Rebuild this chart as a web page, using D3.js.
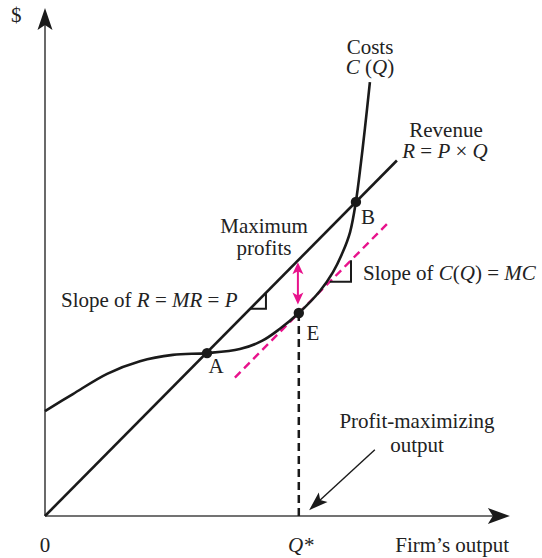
<!DOCTYPE html>
<html>
<head>
<meta charset="utf-8">
<script src="https://cdn.jsdelivr.net/npm/d3@7"></script>
<style>
  body { margin: 0; background: #fff; }
  svg text { font-family: "Liberation Serif", "Times New Roman", serif; font-size: 21px; fill: #222; }
  .it { font-style: italic; }
</style>
</head>
<body>
<svg id="chart" width="542" height="558"></svg>
<script>
// revenue line R = P x Q
const revenueQ = [0, 7.82];
const revenueV = [0, 7.9];

// cost curve C(Q)
const costQ = [0, 0.62, 1.38, 2.11, 2.84, 3.6, 4.33, 4.82, 5.22, 5.64, 6.11, 6.4, 6.62, 6.78, 6.91, 7.02, 7.11, 7.22];
const costV = [2.33, 2.71, 3.16, 3.44, 3.58, 3.62, 3.71, 3.89, 4.16, 4.51, 5.0, 5.42, 5.87, 6.31, 6.99, 7.84, 8.62, 9.64];

// marked points
const pointNames = ["A", "E", "B"];
const pointQ = [3.6, 5.64, 6.91];
const pointV = [3.62, 4.51, 6.98];

// tangent (MC) at E
const tangentQ = [4.22, 7.6];
const tangentSlope = 1.01;

const xMax = 10.33;
const yMax = 11.29;

const svg = d3.select("#chart");

const x = d3.scaleLinear().domain([0, 10]).range([45, 495]);
const y = d3.scaleLinear().domain([0, 10]).range([516, 66]);

const magenta = "#e8128c";
const ink = "#1a1a1a";

function arrowHead(tx, ty, ang, len, hw, notch, color) {
    const c = Math.cos(ang), s = Math.sin(ang);
    const pt = (a, b) => [tx - a * c + b * s, ty - a * s - b * c];
    const p = [pt(0, 0), pt(len, hw), pt(len - notch, 0), pt(len, -hw)];
    svg.append("path")
        .attr("d", "M" + p.map(d => d.join(",")).join("L") + "Z")
        .attr("fill", color);
}

// axes
svg.append("line")
    .attr("x1", x(0)).attr("y1", y(0))
    .attr("x2", x(0)).attr("y2", y(yMax) + 10)
    .attr("stroke", "#444").attr("stroke-width", 1.6);
arrowHead(x(0), y(yMax), -Math.PI / 2, 22, 7.5, 5, ink);

svg.append("line")
    .attr("x1", x(0)).attr("y1", y(0))
    .attr("x2", x(xMax) - 10).attr("y2", y(0))
    .attr("stroke", "#444").attr("stroke-width", 1.6);
arrowHead(x(xMax), y(0), 0, 22, 8, 5, ink);

// dashed drop line from E
svg.append("line")
    .attr("x1", x(pointQ[1])).attr("y1", y(pointV[1]))
    .attr("x2", x(pointQ[1])).attr("y2", y(0))
    .attr("stroke", ink).attr("stroke-width", 2.5)
    .attr("stroke-dasharray", "8,5");

// tangent line
const tan = q => pointV[1] + tangentSlope * (q - pointQ[1]);
svg.append("line")
    .attr("x1", x(tangentQ[0])).attr("y1", y(tan(tangentQ[0])))
    .attr("x2", x(tangentQ[1])).attr("y2", y(tan(tangentQ[1])))
    .attr("stroke", magenta).attr("stroke-width", 2.4)
    .attr("stroke-dasharray", "8,5");

// revenue
svg.append("line")
    .attr("x1", x(revenueQ[0])).attr("y1", y(revenueV[0]))
    .attr("x2", x(revenueQ[1])).attr("y2", y(revenueV[1]))
    .attr("stroke", ink).attr("stroke-width", 2.6);

// cost
const costData = costQ.map((q, i) => [q, costV[i]]);
svg.append("path")
    .datum(costData)
    .attr("d", d3.line().x(d => x(d[0])).y(d => y(d[1])).curve(d3.curveCatmullRom.alpha(0.5)))
    .attr("fill", "none")
    .attr("stroke", ink).attr("stroke-width", 2.6);

// slope triangles
const rev = q => revenueV[1] / revenueQ[1] * q;
function slopeTri(f, q0, q1) {
    const pts = [[q0, f(q0)], [q1, f(q0)], [q1, f(q1)]];
    svg.append("path")
        .attr("d", "M" + pts.map(d => x(d[0]) + "," + y(d[1])).join("L"))
        .attr("fill", "none").attr("stroke", ink).attr("stroke-width", 2);
}
slopeTri(rev, 4.56, 4.91);
slopeTri(tan, 6.33, 6.8);

// max profit double arrow
const arrQ = 5.62, arrTop = 5.64, arrBot = 4.7;
svg.append("line")
    .attr("x1", x(arrQ)).attr("y1", y(arrTop) + 8)
    .attr("x2", x(arrQ)).attr("y2", y(arrBot) - 8)
    .attr("stroke", magenta).attr("stroke-width", 2);
arrowHead(x(arrQ), y(arrTop), -Math.PI / 2, 12, 5.5, 3, magenta);
arrowHead(x(arrQ), y(arrBot), Math.PI / 2, 12, 5.5, 3, magenta);

// points
svg.selectAll("circle.pt")
    .data(pointNames)
    .enter().append("circle")
    .attr("cx", (d, i) => x(pointQ[i]))
    .attr("cy", (d, i) => y(pointV[i]))
    .attr("r", 5.2)
    .attr("fill", ink);

const labelOff = { A: [9, 20], E: [14, 27], B: [12, 22] };
svg.selectAll("text.pl")
    .data(pointNames)
    .enter().append("text")
    .attr("x", (d, i) => x(pointQ[i]) + labelOff[d][0])
    .attr("y", (d, i) => y(pointV[i]) + labelOff[d][1])
    .attr("text-anchor", "middle")
    .text(d => d);

// profit-maximizing output arrow
const pmFrom = [7.33, 1.47], pmTo = [5.87, 0.13];
const ang = Math.atan2(y(pmTo[1]) - y(pmFrom[1]), x(pmTo[0]) - x(pmFrom[0]));
svg.append("line")
    .attr("x1", x(pmFrom[0])).attr("y1", y(pmFrom[1]))
    .attr("x2", x(pmTo[0]) - 12 * Math.cos(ang)).attr("y2", y(pmTo[1]) - 12 * Math.sin(ang))
    .attr("stroke", ink).attr("stroke-width", 1.4);
arrowHead(x(pmTo[0]), y(pmTo[1]), ang, 19, 6.5, 4, ink);

// text labels
function label(tx, ty, anchor, parts) {
    const t = svg.append("text").attr("x", tx).attr("y", ty).attr("text-anchor", anchor);
    parts.forEach(p => {
        const s = t.append("tspan").text(p[0]);
        if (p[1]) s.attr("class", "it");
    });
    return t;
}

label(11, 22, "start", [["$"]]);
label(370, 54, "middle", [["Costs"]]);
label(370, 74, "middle", [["C", 1], [" ("], ["Q", 1], [")"]]);
label(446, 137, "middle", [["Revenue"]]);
label(445, 158, "middle", [["R", 1], [" = "], ["P", 1], [" \u00d7 "], ["Q", 1]]);
label(264, 233, "middle", [["Maximum"]]);
label(264, 255, "middle", [["profits"]]);
label(61, 307, "start", [["Slope of "], ["R", 1], [" = "], ["MR", 1], [" = "], ["P", 1]]);
label(363, 280, "start", [["Slope of "], ["C", 1], ["("], ["Q", 1], [") = "], ["MC", 1]]);
label(417, 428, "middle", [["Profit-maximizing"]]);
label(417, 452, "middle", [["output"]]);
label(x(0), 552, "middle", [["0"]]);
label(x(pointQ[1]) + 2, 552, "middle", [["Q*", 1]]);
label(509, 552, "end", [["Firm\u2019s output"]]);
</script>
</body>
</html>
